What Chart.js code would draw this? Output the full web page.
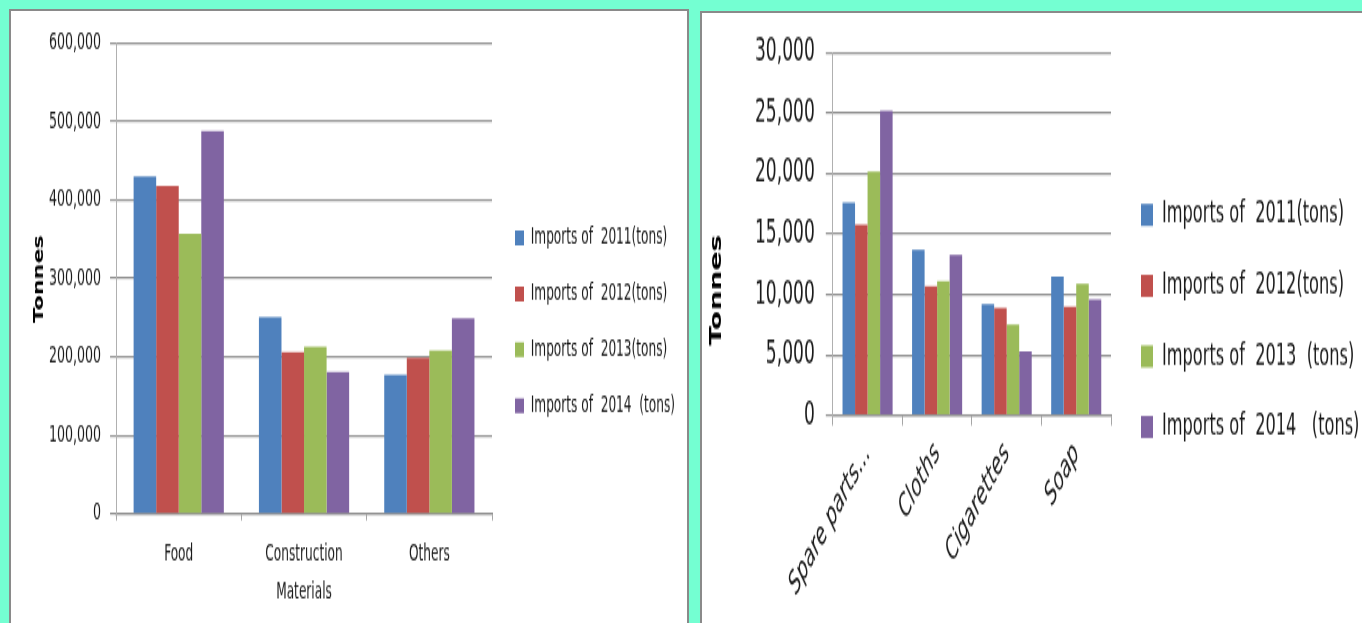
<!DOCTYPE html>
<html><head><meta charset="utf-8">
<script src="https://cdn.jsdelivr.net/npm/chart.js@4.4.1/dist/chart.umd.min.js"></script>
<style>
html,body{margin:0;padding:0;width:1362px;height:623px;overflow:hidden;background:#74FFD2;}
.panel{position:absolute;background:#fff;box-sizing:border-box;border-top:2px solid #8a8a8a;border-left:2px solid #8a8a8a;overflow:hidden;}
#p1{left:9px;top:9px;width:680px;height:640px;border-right:2px solid #8a8a8a;}
#p2{left:700px;top:11px;width:700px;height:640px;}
canvas{display:block;transform-origin:0 0;}
#c1{transform:scaleY(1.65);}
#c2{transform:scaleY(1.7);}
</style></head><body>
<div class="panel" id="p1"><canvas id="c1" width="676" height="380"></canvas></div>
<div class="panel" id="p2"><canvas id="c2" width="680" height="365"></canvas></div>
<script>
const FONT = '"DejaVu Sans Condensed", "DejaVu Sans", sans-serif';
const COLORS = ['#4F81BD', '#C0504D', '#9BBB59', '#8064A2'];

// Left chart data
const leftCategories = ['Food', ['Construction', 'Materials'], 'Others'];
const leftSeriesNames = ['Imports of  2011(tons)', 'Imports of  2012(tons)', 'Imports of  2013(tons)', 'Imports of  2014  (tons)'];
const left2011 = [430000, 251000, 177000];
const left2012 = [418000, 206000, 199000];
const left2013 = [357000, 213000, 208000];
const left2014 = [488000, 181000, 249000];
const leftYMax = 600000;
const leftYStep = 100000;

// Right chart data
const rightCategories = ['Spare parts...', 'Cloths', 'Cigarettes', 'Soap'];
const rightSeriesNames = ['Imports of  2011(tons)', 'Imports of  2012(tons)', 'Imports of  2013  (tons)', 'Imports of  2014   (tons)'];
const right2011 = [17600, 13700, 9200, 11500];
const right2012 = [15800, 10700, 8900, 9000];
const right2013 = [20200, 11100, 7500, 10900];
const right2014 = [25200, 13300, 5300, 9600];
const rightYMax = 30000;
const rightYStep = 5000;

const axisTitle = 'Tonnes';

// Places the legend and draws the rotated axis title
const layoutTweaks = {
  id: 'layoutTweaks',
  beforeDraw(chart, args, opts) {
    const lg = chart.legend;
    if (lg && opts.legendLeft != null) {
      lg.left = opts.legendLeft; lg.right = chart.width;
      lg.top = opts.legendTop; lg.bottom = chart.height;
    }
  },
  afterDraw(chart, args, opts) {
    if (!opts.title) return;
    const ctx = chart.ctx;
    ctx.save();
    ctx.font = opts.titleFont;
    ctx.fillStyle = '#000';
    ctx.textAlign = 'center';
    ctx.textBaseline = 'middle';
    ctx.translate(opts.titleX, opts.titleY);
    ctx.rotate(-Math.PI / 2);
    ctx.fillText(opts.title, 0, 0);
    ctx.restore();
  }
};

function legendFit(names, fontSize, boxWidth, pad, canvasW, targetRight) {
  const c = document.createElement('canvas').getContext('2d');
  c.font = fontSize + 'px ' + FONT;
  const tw = Math.max(...names.map(n => c.measureText(n).width));
  const natural = pad + boxWidth + fontSize / 2 + tw + 10;
  const want = canvasW - targetRight;
  return { maxWidth: want, padRight: Math.max(0, want - natural) };
}

function buildDatasets(names, series) {
  return series.map((d, i) => ({
    label: names[i],
    data: d,
    backgroundColor: COLORS[i],
    borderWidth: 0,
    categoryPercentage: 0.72,
    barPercentage: 1.0
  }));
}

const fmt = v => Number(v).toLocaleString('en-US');

// ---------- Left chart ----------
const L = { legendFont: 13.5, boxW: 9, boxH: 9, legPad: 20.4 };
const lfit = legendFit(leftSeriesNames, L.legendFont, L.boxW, L.legPad, 676, 481);
new Chart(document.getElementById('c1'), {
  type: 'bar',
  data: { labels: leftCategories, datasets: buildDatasets(leftSeriesNames, [left2011, left2012, left2013, left2014]) },
  options: {
    responsive: false, animation: false, devicePixelRatio: 1,
    layout: { padding: { left: 29, top: 19.4, right: lfit.padRight, bottom: 7 } },
    plugins: {
      legend: { position: 'right', align: 'start', maxWidth: lfit.maxWidth,
        labels: { boxWidth: L.boxW, boxHeight: L.boxH, padding: L.legPad, color: '#1a1a1a', font: { family: FONT, size: L.legendFont } } },
      tooltip: { enabled: false },
      layoutTweaks: { legendLeft: 504 - L.legPad, legendTop: 110.4, title: axisTitle,
        titleFont: 'bold 13.5px "DejaVu Sans", sans-serif', titleX: 28, titleY: 162.4 }
    },
    scales: {
      x: {
        grid: { display: true, drawOnChartArea: false, drawTicks: true, tickLength: 4, color: '#a6a6a6', lineWidth: 1 },
        border: { display: true, color: '#939393', width: 1.2 },
        ticks: { color: '#1a1a1a', padding: 9.7, maxRotation: 0, autoSkip: false,
          font: { family: FONT, size: 13.5, lineHeight: 1.66 } }
      },
      y: {
        min: 0, max: leftYMax,
        ticks: { stepSize: leftYStep, padding: 9, color: '#1a1a1a', font: { family: FONT, size: 14 }, callback: fmt },
        grid: { color: '#939393', lineWidth: 1.2, tickLength: 6, drawTicks: true },
        border: { display: true, color: '#b0b0b0', width: 1 }
      }
    }
  },
  plugins: [layoutTweaks]
});

// ---------- Right chart ----------
const R = { legendFont: 18, boxW: 12, boxH: 13, legPad: 23.6 };
const rfit = legendFit(rightSeriesNames, R.legendFont, R.boxW, R.legPad, 680, 409);
new Chart(document.getElementById('c2'), {
  type: 'bar',
  data: { labels: rightCategories, datasets: buildDatasets(rightSeriesNames, [right2011, right2012, right2013, right2014]) },
  options: {
    responsive: false, animation: false, devicePixelRatio: 1,
    layout: { padding: { left: 42, top: 23.5, right: rfit.padRight, bottom: 12 } },
    plugins: {
      legend: { position: 'right', align: 'start', maxWidth: rfit.maxWidth,
        labels: { boxWidth: R.boxW, boxHeight: R.boxH, padding: R.legPad, color: '#1a1a1a', font: { family: FONT, size: R.legendFont } } },
      tooltip: { enabled: false },
      layoutTweaks: { legendLeft: 439 - R.legPad, legendTop: 86.2, title: axisTitle,
        titleFont: 'bold 16.5px "DejaVu Sans", sans-serif', titleX: 15, titleY: 163 }
    },
    scales: {
      x: {
        grid: { display: true, drawOnChartArea: false, drawTicks: true, tickLength: 6, color: '#a6a6a6', lineWidth: 1 },
        border: { display: true, color: '#939393', width: 1.2 },
        ticks: { color: '#1a1a1a', padding: 6, minRotation: 48, maxRotation: 48, autoSkip: false,
          font: { family: FONT, size: 18.5, style: 'italic' } }
      },
      y: {
        min: 0, max: rightYMax,
        ticks: { stepSize: rightYStep, padding: 11, color: '#1a1a1a', font: { family: FONT, size: 19 }, callback: fmt },
        grid: { color: '#939393', lineWidth: 1.2, tickLength: 7, drawTicks: true },
        border: { display: true, color: '#b0b0b0', width: 1 }
      }
    }
  },
  plugins: [layoutTweaks]
});
</script>
</body></html>
